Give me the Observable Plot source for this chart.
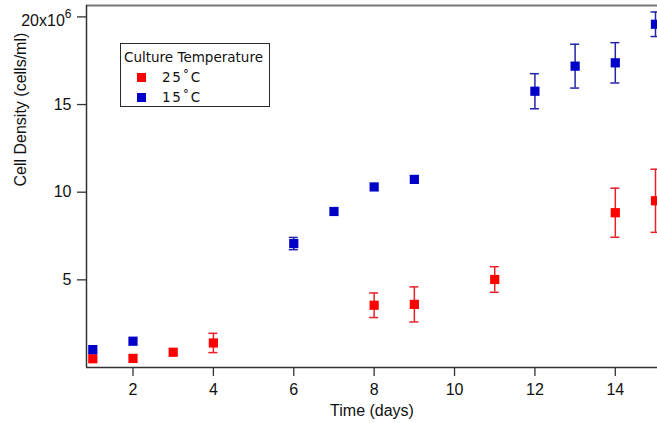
<!DOCTYPE html>
<html>
<head>
<meta charset="utf-8">
<script src="https://cdn.jsdelivr.net/npm/d3@7"></script>
<script src="https://cdn.jsdelivr.net/npm/@observablehq/plot@0.6"></script>
<style>
  html, body { margin: 0; padding: 0; background: #fff; }
  #wrap { position: relative; width: 657px; height: 423px; font-family: "Liberation Sans", Arial, Helvetica, sans-serif; }
  #legend { position: absolute; left: 120px; top: 43px; width: 148px; height: 62px; border: 1.5px solid #2a2a2a; background: #fff; font-family: "DejaVu Sans", sans-serif; font-size: 13.5px; color: #111; }
  #legend .title { position: absolute; left: 3px; top: 5px; white-space: nowrap; line-height: 16px; }
  #legend .row { position: absolute; left: 16px; white-space: nowrap; letter-spacing: 1.6px; line-height: 16px; }
  #legend .sw { display: inline-block; width: 9px; height: 9px; margin-right: 16px; vertical-align: 0px; }
</style>
</head>
<body>
<div id="wrap"></div>
<script>
// Days and cell densities (x10^6 cells/ml) with error half-widths
const days25 = [1, 2, 3, 4, 8, 9, 11, 14, 15];
const dens25 = [0.50, 0.52, 0.87, 1.40, 3.55, 3.60, 5.02, 8.83, 9.51];
const err25  = [0, 0, 0, 0.55, 0.70, 1.00, 0.73, 1.40, 1.80];

const days15 = [1, 2, 6, 7, 8, 9, 12, 13, 14, 15];
const dens15 = [1.02, 1.50, 7.07, 8.90, 10.30, 10.73, 15.76, 17.19, 17.38, 19.58];
const err15  = [0, 0, 0.35, 0, 0, 0, 1.00, 1.25, 1.15, 0.70];

const seriesNames = ["25˚C", "15˚C"];
const seriesColors = ["#ff0000", "#0000c8"];
const errColors = ["#e8202a", "#2424a8"];

const xTicks = [2, 4, 6, 8, 10, 12, 14];
const yTicks = [5, 10, 15, 20];
const xLabel = "Time (days)";
const yLabel = "Cell Density (cells/ml)";
const legendTitle = "Culture Temperature";

const xDomain = [0.843, 15.05];
const yDomain = [0, 20.65];

const data = [
  ...days25.map((d, i) => ({day: d, dens: dens25[i], err: err25[i], s: 0})),
  ...days15.map((d, i) => ({day: d, dens: dens15[i], err: err15[i], s: 1}))
];
const withErr = data.filter(d => d.err > 0);
const capHalf = 0.112;

const chart = Plot.plot({
  width: 657,
  height: 423,
  marginLeft: 86,
  marginRight: 0,
  marginTop: 5,
  marginBottom: 56,
  style: {fontFamily: "'Liberation Sans', Arial, Helvetica, sans-serif", fontSize: "16px", color: "#111", background: "#fff", overflow: "hidden"},
  x: {domain: xDomain},
  y: {domain: yDomain},
  marks: [
    Plot.ruleX(withErr, {x: "day", y1: d => d.dens - d.err, y2: d => d.dens + d.err, stroke: d => errColors[d.s], strokeWidth: 1.5}),
    Plot.ruleY(withErr, {y: d => d.dens + d.err, x1: d => d.day - capHalf, x2: d => d.day + capHalf, stroke: d => errColors[d.s], strokeWidth: 1.5}),
    Plot.ruleY(withErr, {y: d => d.dens - d.err, x1: d => d.day - capHalf, x2: d => d.day + capHalf, stroke: d => errColors[d.s], strokeWidth: 1.5}),
    Plot.dot(data, {x: "day", y: "dens", symbol: "square", r: 5.2, fill: d => seriesColors[d.s], stroke: "none"}),
    Plot.ruleY([yDomain[1]], {stroke: "#777", strokeWidth: 2}),
    Plot.ruleX([xDomain[0]], {stroke: "#333", strokeWidth: 1.5}),
    Plot.ruleY([yDomain[0]], {stroke: "#333", strokeWidth: 1.5}),
    Plot.axisY({ticks: yTicks, tickSize: 9, tickPadding: 6, strokeWidth: 1.3, stroke: "#333",
      tickFormat: d => d === 20 ? "20x10|6" : String(d), fontSize: 16, label: null}),
    Plot.axisX({ticks: xTicks, tickSize: 9, tickPadding: 7, strokeWidth: 1.3, stroke: "#333", fontSize: 16, label: null}),
    Plot.text([yLabel], {frameAnchor: "left", dx: -66, rotate: -90, fontSize: 16, fill: "#111"}),
    Plot.text([xLabel], {frameAnchor: "bottom", dy: 48, fontSize: 16, fill: "#111"})
  ]
});
const wrap = document.getElementById("wrap");
wrap.appendChild(chart);

// superscript exponent on the top y tick label
chart.querySelectorAll("text").forEach(t => {
  if (t.textContent === "20x10|6") {
    t.textContent = "20x10";
    const ts = document.createElementNS("http://www.w3.org/2000/svg", "tspan");
    ts.setAttribute("dy", "-0.6em");
    ts.setAttribute("font-size", "12");
    ts.textContent = "6";
    t.appendChild(ts);
    t.setAttribute("transform", (t.getAttribute("transform") || "") + " translate(0,3.5)");
  }
});

const leg = document.createElement("div");
leg.id = "legend";
leg.innerHTML = `<div class="title">${legendTitle}</div>` +
  seriesNames.map((n, i) => `<div class="row" style="top:${25 + i * 19.5}px"><span class="sw" style="background:${seriesColors[i]}"></span>${n}</div>`).join("");
wrap.appendChild(leg);
</script>
</body>
</html>
